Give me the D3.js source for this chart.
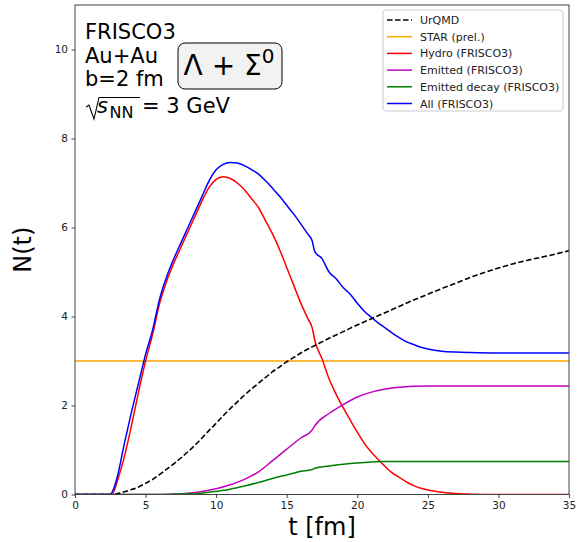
<!DOCTYPE html>
<html><head><meta charset="utf-8">
<script src="https://cdn.jsdelivr.net/npm/d3@7"></script>
<style>body{margin:0;background:#fff;} svg{display:block;} text{font-family:"DejaVu Sans",sans-serif;}</style>
</head><body><svg id="c" width="585" height="542"></svg>
<script>
// ---- data ----
const xTicks = [0,5,10,15,20,25,30,35];
const yTicks = [0,2,4,6,8,10];
const starValue = 3.0;

const urqmdT = [0,2.7,3,3.5,4,4.5,5,5.5,6,6.5,7,7.5,8,8.5,9,9.5,10,10.5,11,11.5,12,12.5,13,13.5,14,14.5,15,15.5,16,16.5,17,17.5,18,19,20,21,22,23,24,25,26,27,28,29,30,31,32,33,34,35];
const urqmdN = [0,0,0.02,0.06,0.11,0.17,0.25,0.34,0.45,0.57,0.69,0.82,0.96,1.11,1.27,1.44,1.6,1.77,1.93,2.08,2.23,2.37,2.5,2.63,2.76,2.87,2.98,3.08,3.18,3.27,3.35,3.43,3.51,3.66,3.81,3.95,4.09,4.23,4.37,4.5,4.63,4.75,4.88,4.99,5.09,5.18,5.26,5.33,5.4,5.48];

const hydroT = [0,2.6,2.8,3,3.5,4,4.5,5,5.5,6,6.5,7,7.5,8,8.5,9,9.5,10,10.5,11,11.5,12,12.5,13,13.5,14,14.5,15,15.5,16,16.5,16.8,17,17.5,18,18.5,19,19.5,20,20.5,21,21.5,22,22.5,23,23.5,24,24.5,25,26,27,28,30,35];
const hydroN = [0,0,0.1,0.3,0.85,1.55,2.3,3.0,3.6,4.3,4.8,5.2,5.55,5.9,6.25,6.6,6.9,7.08,7.14,7.1,7.0,6.85,6.65,6.45,6.15,5.85,5.5,5.1,4.7,4.3,3.95,3.75,3.45,3.05,2.6,2.25,1.95,1.67,1.4,1.15,0.95,0.78,0.62,0.48,0.38,0.28,0.2,0.14,0.1,0.05,0.02,0.008,0,0];

const emitT = [0,6,7,8,9,10,11,12,13,14,15,16,16.8,17,18,19,20,21,22,23,24,25,27,30,35];
const emitN = [0,0,0.01,0.03,0.07,0.13,0.22,0.34,0.51,0.76,1.02,1.27,1.45,1.55,1.82,2.02,2.19,2.3,2.37,2.41,2.43,2.44,2.44,2.44,2.44];

const decayT = [0,6,7,8,9,10,11,12,13,14,15,16,16.8,17,18,19,20,21,22,23,25,30,35];
const decayN = [0,0,0.005,0.015,0.03,0.07,0.12,0.19,0.27,0.36,0.44,0.52,0.56,0.59,0.64,0.68,0.71,0.73,0.74,0.74,0.74,0.74,0.74];

const allT = [0,2.5,2.7,3,3.5,4,4.5,5,5.5,6,6.5,7,7.5,8,8.5,9,9.5,10,10.5,11,11.5,12,12.5,13,13.5,14,14.5,15,15.5,16,16.5,16.8,17,17.5,18,18.5,19,19.5,20,20.5,21,21.5,22,22.5,23,23.5,24,24.5,25,26,27,28,30,35];
const allN = [0,0,0.1,0.4,1.15,1.85,2.5,3.15,3.7,4.4,4.9,5.3,5.65,6.0,6.35,6.7,7.05,7.3,7.42,7.46,7.45,7.39,7.3,7.2,7.05,6.88,6.7,6.5,6.3,6.08,5.85,5.7,5.45,5.3,5.0,4.85,4.65,4.5,4.3,4.12,3.98,3.85,3.74,3.62,3.52,3.43,3.37,3.31,3.27,3.22,3.2,3.19,3.18,3.18];

const seriesNames = ["UrQMD","STAR (prel.)","Hydro (FRISCO3)","Emitted (FRISCO3)","Emitted decay (FRISCO3)","All (FRISCO3)"];
const seriesColors = ["#000000","#ffa500","#ff0000","#bf00bf","#008000","#0000ff"];

// ---- layout ----
const L=75,R=569,T=5,B=494.5;
const svg=d3.select("#c");
const x=d3.scaleLinear().domain([0,35]).range([L,R]);
const y=d3.scaleLinear().domain([0,11]).range([B,T]);

svg.append("clipPath").attr("id","clip").append("rect").attr("x",L).attr("y",T).attr("width",R-L).attr("height",B-T);

const line=d3.line().x(d=>x(d[0])).y(d=>y(d[1])).curve(d3.curveMonotoneX);
const zip=(a,b)=>a.map((v,i)=>[v,b[i]]);
const g=svg.append("g").attr("clip-path","url(#clip)");

g.append("line").attr("x1",x(0)).attr("x2",x(35)).attr("y1",y(starValue)).attr("y2",y(starValue))
 .attr("stroke",seriesColors[1]).attr("stroke-width",1.5);
const curves=[[hydroT,hydroN,2],[emitT,emitN,3],[decayT,decayN,4],[allT,allN,5]];
curves.forEach(([t,n,i])=>{
  g.append("path").attr("d",line(zip(t,n))).attr("fill","none").attr("stroke",seriesColors[i]).attr("stroke-width",1.5);
});
g.append("path").attr("d",line(zip(urqmdT,urqmdN))).attr("fill","none").attr("stroke",seriesColors[0]).attr("stroke-width",1.6).attr("stroke-dasharray","5.5,2.5");

// axes
const xa=svg.append("g").attr("transform",`translate(0,${B})`).call(d3.axisBottom(x).tickValues(xTicks).tickSize(3.5).tickPadding(3.5));
const ya=svg.append("g").attr("transform",`translate(${L},0)`).call(d3.axisLeft(y).tickValues(yTicks).tickSize(3.5).tickPadding(3.5));
[xa,ya].forEach(a=>{a.select(".domain").remove();a.selectAll("text").attr("font-family","DejaVu Sans").attr("font-size",10.5).attr("fill","#222");a.selectAll("line").attr("stroke","#444");});
svg.append("rect").attr("x",L).attr("y",T).attr("width",R-L).attr("height",B-T).attr("fill","none").attr("stroke","#444").attr("stroke-width",1);

svg.append("text").attr("x",(L+R)/2).attr("y",535).attr("text-anchor","middle").attr("font-size",24).attr("fill","#000").text("t [fm]");
svg.append("text").attr("transform",`translate(31,${(T+B)/2}) rotate(-90)`).attr("text-anchor","middle").attr("font-size",24).attr("fill","#000").text("N(t)");

// annotations
const ann=svg.append("g").attr("font-size",21).attr("fill","#000");
ann.append("text").attr("x",85).attr("y",39).text("FRISCO3");
ann.append("text").attr("x",85).attr("y",63).text("Au+Au");
ann.append("text").attr("x",85).attr("y",86).text("b=2 fm");
// sqrt(s_NN) = 3 GeV
ann.append("path").attr("d","M86,107 L89,105 L94,119 L99,97.5 L140,97.5").attr("fill","none").attr("stroke","#000").attr("stroke-width",1.1);
const st=ann.append("text").attr("x",97).attr("y",113);
st.append("tspan").attr("font-style","italic").text("s");
st.append("tspan").attr("font-size",16).attr("dx",1.5).attr("dy",5).text("NN");
st.append("tspan").attr("dx",2).attr("dy",-5).text(" = 3 GeV");

// lambda box
svg.append("rect").attr("x",178).attr("y",43).attr("width",104).attr("height",46).attr("rx",7)
  .attr("fill","#f2f2f2").attr("stroke","#000").attr("stroke-width",1);
const lt=svg.append("text").attr("x",229).attr("y",75).attr("text-anchor","middle").attr("font-size",28).attr("fill","#000");
lt.append("tspan").text("Λ + Σ");
lt.append("tspan").attr("font-size",20).attr("dy",-12).text("0");

// legend
const lg=svg.append("g");
lg.append("rect").attr("x",383).attr("y",10).attr("width",180).attr("height",101).attr("rx",3)
  .attr("fill","#fff").attr("fill-opacity",0.85).attr("stroke","#ccc");
seriesNames.forEach((nm,i)=>{
  const yy=20+i*16.7;
  const ln=lg.append("line").attr("x1",387).attr("x2",412).attr("y1",yy).attr("y2",yy).attr("stroke",seriesColors[i]).attr("stroke-width",1.5);
  if(i===0) ln.attr("stroke-dasharray","5.5,2.5").attr("stroke-width",1.6);
  lg.append("text").attr("x",420).attr("y",yy+4).attr("font-size",11).attr("fill","#222").text(nm);
});
</script></body></html>
